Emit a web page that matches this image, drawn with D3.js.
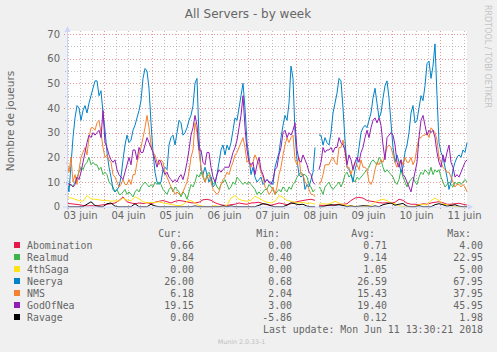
<!DOCTYPE html>
<html>
<head>
<meta charset="utf-8">
<script src="https://cdn.jsdelivr.net/npm/d3@7"></script>
<style>
  body { margin: 0; background: #f0f0f0; }
  svg { display: block; }
</style>
</head>
<body>
<div id="chart"></div>
<script>
// hourly samples from Sun Jun 3 05:30 to Mon Jun 11 13:30 (null = no data)
const neerya = [
  10, 6, 17, 28, 36, 41, 40, 35, 39, 41,
  38, 42, 45, 48, 51, 51, 45, 47, 38, 31,
  22, 16, 12, 7, 6, 7, 8, 12, 19, 25,
  29, 26, 27, 31, 33, 36, 39, 43, 52, 56,
  55, 48, 34, 22, 14, 10, 9, 10, 15, 16,
  15, 25, 28, 29, 25, 30, 35, 34, 29, 30,
  32, 35, 37, 41, 50, 52, 28, 15, 13, 16,
  13, 10, 12, 8, 9, 13, 18, 23, 25, 21,
  25, 23, 26, 31, 36, 35, 40, 45, 50, 40,
  26, 20, 13, 16, 12, 10, 11, 12, 9, 10,
  11, 10, 10, 9, 16, 19, 22, 28, 33, 37,
  35, 42, 57, 52, 30, 19, 13, 12, 13, 7,
  9, 8, 11, 14, 24, null, 29, 29, 25, 28,
  26, 25, 30, 38, 42, 46, 52, 51, 40, 27,
  16, 15, 13, 10, 15, 18, 24, 30, 32, 33,
  32, 35, 38, 44, 48, 42, 36, 38, 44, 49,
  51, 44, 34, 24, 18, 21, 18, 14, 16, 22,
  25, 30, 38, 41, 34, 35, 40, 45, 43, 49,
  58, 59, 52, 57, 66, 45, 26, 22, 20, 16,
  12, 7, 10, 15, 18, 20, 21, 20, 23, 22,
  26
];
const godofnea = [
  10, 9, 9, 8, 9, 12, 11, 14, 18, 22,
  26, 29, 28, 30, 29, 30, 31, 28, 39, 26,
  24, 21, 19, 18, 19, 15, 13, 12, 11, 14,
  17, 20, 17, 23, 23, 19, 24, 22, 22, 25,
  28, 26, 24, 22, 19, 16, 19, 18, 15, 13,
  14, 12, 11, 10, 11, 10, 12, 13, 11, 14,
  18, 23, 29, 32, 37, 33, 23, 23, 18, 17,
  22, 22, 16, 12, 10, 13, 15, 14, 15, 16,
  16, 16, 19, 22, 24, 27, 32, 37, 45, 32,
  23, 18, 17, 18, 13, 17, 20, 15, 13, 10,
  11, 10, 9, 11, 15, 16, 21, 24, 30, 31,
  28, 30, 29, 31, 34, 23, 19, 18, 21, 19,
  17, 14, 13, 10, 9, null, 15, 18, 24, 22,
  23, 23, 24, 22, 24, 24, 28, 26, 25, 23,
  17, 21, 19, 15, 18, 20, 18, 22, 24, 28,
  31, 28, 32, 35, 36, 34, 36, 33, 25, 19,
  28, 29, 30, 29, 25, 18, 16, 19, 13, 12,
  10, 8, 6, 10, 14, 18, 28, 35, 37, 33,
  29, 31, 30, 31, 28, 22, 18, 16, 21, 18,
  22, 25, 18, 16, 12, 13, 12, 14, 16, 18,
  19
];
const nms = [
  18, 14, 20, 10, 13, 9, 15, 20, 22, 24,
  21, 28, 32, 32, 31, 34, 35, 30, 24, 20,
  21, 19, 18, 13, 12, 10, 8, 9, 11, 9,
  9, 11, 9, 13, 13, 18, 21, 24, 28, 32,
  37, 32, 25, 22, 21, 18, 17, 19, 18, 14,
  12, 10, 8, 7, 5, 6, 5, 5, 6, 8,
  10, 14, 20, 23, 34, 30, 22, 16, 13, 10,
  12, 13, 10, 7, 6, 5, 6, 9, 11, 12,
  14, 13, 16, 18, 21, 22, 24, 26, 28, 24,
  18, 19, 16, 18, 21, 19, 17, 14, 12, 8,
  7, 5, 6, 8, 5, 8, 13, 16, 21, 25,
  28, 26, 28, 29, 19, 17, 20, 13, 13, 10,
  9, 7, 5, 5, 4, null, 9, 10, 13, 17,
  17, 17, 19, 20, 18, 17, 24, 24, 27, 22,
  16, 16, 13, 16, 18, 17, 15, 19, 16, 16,
  15, 10, 9, 11, 15, 18, 17, 19, 18, 21,
  24, 25, 24, 21, 18, 16, 18, 19, 17, 20,
  18, 18, 20, 17, 19, 24, 28, 28, 29, 29,
  30, 28, 32, 31, 30, 27, 20, 18, 16, 15,
  14, 14, 12, 10, 8, 9, 9, 8, 9, 8,
  6
];
const realmud = [
  9, 8, 9, 8, 10, 12, 14, 16, 15, 17,
  18, 20, 17, 18, 17, 17, 15, 16, 13, 14,
  13, 10, 9, 8, 6, 7, 5, 5, 6, 7,
  5, 6, 5, 4, 6, 7, 6, 8, 9, 10,
  9, 8, 9, 8, 10, 9, 10, 9, 7, 6,
  5, 7, 8, 6, 8, 7, 6, 4, 6, 5,
  3, 6, 9, 8, 10, 13, 12, 14, 12, 10,
  13, 14, 12, 9, 10, 8, 7, 9, 10, 11,
  9, 7, 8, 10, 9, 12, 11, 10, 9, 10,
  9, 10, 9, 8, 7, 5, 6, 5, 6, 7,
  7, 9, 8, 7, 5, 6, 7, 6, 8, 7,
  6, 8, 7, 9, 10, 12, 13, 14, 13, 13,
  12, 9, 8, 6, 7, null, 8, 7, 5, 8,
  9, 10, 8, 7, 8, 9, 10, 8, 10, 13,
  14, 12, 13, 11, 10, 12, 11, 12, 13, 14,
  15, 16, 18, 19, 18, 17, 20, 19, 16, 14,
  15, 14, 13, 12, 10, 9, 11, 15, 12, 10,
  8, 10, 11, 12, 10, 9, 12, 14, 13, 15,
  14, 13, 16, 13, 15, 14, 15, 12, 10, 8,
  9, 10, 9, 8, 10, 9, 10, 9, 10, 11,
  10
];
// two-hourly samples
const abomination = [
  1.3, 1.2, 1, 0.8, 0.5, 0.3, 0.4, 0.3, 0.5, 0.8,
  1, 1.2, 1.5, 2.5, 4, 2, 1.5, 1.2, 1.5, 1.3,
  1.6, 1.2, 1.8, 2.2, 2.5, 2, 1.5, 2.2, 2.5, 2.3,
  2, 1.6, 1.5, 1.8, 2.8, 3, 2.6, 1.6, 1, 0.6,
  0.5, 0.8, 1, 1.5, 1.2, 1, 1.5, 1.6, 1.8, 1.2,
  0.8, 0.6, 1, 1.5, 1.2, 0.8, 1.2, 1.8, 2.2, 2.5,
  2.8, 3, 2.6, 0.6, 0.5, 0.6, 0.5, 0.8, 1, 1,
  1.2, 2.5, 3.5, 3.8, 3.5, 2.5, 2.2, 2, 1.6, 1.5,
  1.6, 1.4, 1.8, 3, 2.6, 1.4, 1, 1, 0.8, 1.2,
  1, 1.5, 1.8, 2, 1.6, 1, 1, 1.2, 1.4, 1,
  0.66
];
const saga4th = [
  3.5, 3.6, 3, 2.5, 2.2, 4.5, 3.2, 3, 2.8, 2.5,
  2.6, 2.2, 2.4, 2.2, 3.5, 2.7, 2.4, 4, 3.2, 2,
  1.5, 1.8, 1.6, 2, 1.5, 1.2, 1, 0.6, 0.4, 0.8,
  2.2, 2.5, 1.5, 0.5, 0.2, 0, 0, 0.5, 0, 0,
  0.6, 3.5, 4.5, 3, 2.5, 2.2, 2.6, 4.2, 3.5, 2.5,
  1.8, 1.5, 2.2, 4.5, 3.8, 2.5, 2.2, 1.8, 1.5, 1.8,
  1.3, 1.5, 1, 1, 1.2, 1, 1.4, 2.2, 1.5, 0.8,
  0.5, 0.3, 0.2, 0, 0, 0.2, 0.5, 2, 2.5, 3,
  2.5, 1.5, 1.2, 0.4, 0, 0, 0, 0.2, 0.8, 1,
  0.7, 2.5, 3.5, 2.5, 1, 0.8, 0.3, 0, 0, 0,
  0
];
const ravage = [
  0, 0, 0, 0, 0, 1, 2, 0.5, 0, 0,
  1.2, 1.5, 0.2, 0, 0, 0, 0, 1.2, 0, 0,
  0, 1, 0.3, 0, 0, 0, 0, 0, 0, 0,
  0, 0, 0.3, 0, 0, 0, 0, 0, 0, 0.3,
  0, 0.3, 0, 0, 0, 0, 0, 0, 0.6, 1.2,
  1, 0.3, 0, 0, 0, 0.6, 1.6, 1.2, 0.8, 1,
  0.2, 0, 0, 0, 0, 0.5, 0.8, 0.6, 0.8, 0.5,
  0, 0.3, 0, 0.2, 0.4, 0.3, 0, 0.3, 0, 0.8,
  1.2, 1.5, 0.6, 1, 1.3, 0.2, 0, 0, 0.4, 0,
  0, 0, 0.8, 1.2, 0.8, 0.2, 0.5, 0.8, 0.2, 0,
  0
];
const gapHours = [125];

const names  = ["Abomination", "Realmud", "4thSaga", "Neerya", "NMS", "GodOfNea", "Ravage"];
const colors = ["#e6194b", "#3cb44b", "#ffe119", "#0082c8", "#f58231", "#911eb4", "#000000"];
const curVals = [0.66, 9.84, 0.00, 26.00, 6.18, 19.15, 0.00];
const minVals = [0.00, 0.40, 0.00, 0.68, 2.04, 3.00, -5.86];
const avgVals = [0.71, 9.14, 1.05, 26.59, 15.43, 19.40, 0.12];
const maxVals = [4.00, 22.95, 5.00, 67.95, 37.95, 45.95, 1.98];
const yTicks = [0, 10, 20, 30, 40, 50, 60, 70];

const W = 497, H = 352;
const plotL = 67, plotR = 467, plotT = 31, plotB = 207;
const fontCol = "#666666", axisCol = "#cfd6f8";

const start = new Date(2018, 5, 3, 5, 30);
const end = new Date(2018, 5, 11, 13, 30);
const hourTime = h => new Date(start.getTime() + h * 3600e3);

const x = d3.scaleTime().domain([start, end]).range([plotL, plotR]);
const y = d3.scaleLinear().domain([0, 70]).range([206.7, 34]);

const fr = d3.timeFormatLocale({
  dateTime: "%A %e %B %Y à %X", date: "%d/%m/%Y", time: "%H:%M:%S", periods: ["AM", "PM"],
  days: ["dimanche", "lundi", "mardi", "mercredi", "jeudi", "vendredi", "samedi"],
  shortDays: ["dim.", "lun.", "mar.", "mer.", "jeu.", "ven.", "sam."],
  months: ["janvier", "février", "mars", "avril", "mai", "juin", "juillet", "août", "septembre", "octobre", "novembre", "décembre"],
  shortMonths: ["janv.", "févr.", "mars", "avr.", "mai", "juin", "juil.", "août", "sept.", "oct.", "nov.", "déc."]
});
const dayFmt = fr.format("%d %b");

const svg = d3.select("#chart").append("svg")
  .attr("width", W).attr("height", H)
  .style("font-family", "'DejaVu Sans', sans-serif");

svg.append("rect").attr("width", W).attr("height", H).attr("fill", "#f0f0f0");
svg.append("rect")
  .attr("x", plotL).attr("y", plotT)
  .attr("width", plotR - plotL).attr("height", plotB - plotT)
  .attr("fill", "#ffffff");

// grid
const px = v => Math.round(v) + 0.5;
const minorCol = "rgba(140,140,140,0.55)", majorCol = "rgba(220,80,80,0.6)";
const grid = svg.append("g").attr("stroke-width", 1).attr("stroke-dasharray", "1,2");

const midnights = d3.timeDay.range(start, end);
const sixHours = d3.timeHour.every(6).range(start, end).filter(d => d.getHours() !== 0);

grid.selectAll(".vmin").data(sixHours).enter().append("line")
  .attr("x1", d => px(x(d))).attr("x2", d => px(x(d)))
  .attr("y1", plotT).attr("y2", plotB + 2)
  .attr("stroke", minorCol);
grid.selectAll(".hmin").data(d3.range(5, 70, 10)).enter().append("line")
  .attr("x1", plotL - 2).attr("x2", plotR)
  .attr("y1", d => px(y(d))).attr("y2", d => px(y(d)))
  .attr("stroke", minorCol);
grid.selectAll(".vmaj").data(midnights).enter().append("line")
  .attr("x1", d => px(x(d))).attr("x2", d => px(x(d)))
  .attr("y1", plotT).attr("y2", plotB + 3)
  .attr("stroke", majorCol);
grid.selectAll(".hmaj").data(yTicks.slice(1)).enter().append("line")
  .attr("x1", plotL - 3).attr("x2", plotR)
  .attr("y1", d => px(y(d))).attr("y2", d => px(y(d)))
  .attr("stroke", majorCol);

// axis labels
const xAxis = d3.axisBottom(x)
  .tickValues(d3.timeHour.range(start, end).filter(d => d.getHours() === 12))
  .tickFormat(dayFmt).tickSize(0).tickPadding(5);
const gx = svg.append("g").attr("transform", `translate(0,${plotB})`).call(xAxis);
const yAxis = d3.axisLeft(y).tickValues(yTicks).tickSize(0).tickPadding(7);
const gy = svg.append("g").attr("transform", `translate(${plotL},0)`).call(yAxis);
[gx, gy].forEach(g => {
  g.select(".domain").remove();
  g.selectAll("text").attr("fill", fontCol)
    .style("font-family", "'DejaVu Sans', sans-serif").style("font-size", "10px");
});

// series, drawn in legend order
const allValues = [abomination, realmud, saga4th, neerya, nms, godofnea, ravage];
const steps = [2, 1, 2, 1, 1, 1, 2];

const line = d3.line()
  .defined(d => d.v != null)
  .x(d => x(hourTime(d.h)))
  .y(d => y(d.v));

allValues.forEach((vals, i) => {
  let pts = vals.map((v, j) => ({ h: j * steps[i], v: v }));
  if (steps[i] > 1) {
    gapHours.forEach(g => pts.push({ h: g, v: null }));
    pts.sort((a, b) => a.h - b.h);
  }
  svg.append("path")
    .datum(pts)
    .attr("fill", "none")
    .attr("stroke", colors[i])
    .attr("stroke-width", 1)
    .attr("d", line);
});

// axes with arrows
svg.append("line").attr("x1", plotL - 4).attr("x2", plotR + 3)
  .attr("y1", 207).attr("y2", 207).attr("stroke", axisCol);
svg.append("path").attr("d", `M${plotR + 1},204 L${plotR + 6},207 L${plotR + 1},210 Z`).attr("fill", axisCol);
svg.append("line").attr("x1", plotL + 0.5).attr("x2", plotL + 0.5)
  .attr("y1", 210).attr("y2", 30).attr("stroke", axisCol);
svg.append("path").attr("d", `M${plotL - 2.5},32 L${plotL + 0.5},26 L${plotL + 3.5},32 Z`).attr("fill", axisCol);

// titles
svg.append("text").attr("x", 248).attr("y", 18).attr("text-anchor", "middle")
  .attr("fill", fontCol).style("font-size", "12px").text("All Servers - by week");
svg.append("text").attr("transform", "translate(14,121) rotate(-90)")
  .attr("text-anchor", "middle").attr("fill", fontCol).style("font-size", "10.5px")
  .text("Nombre de joueurs");
svg.append("text").attr("transform", "translate(485,5) rotate(90)")
  .attr("fill", "#c4c4c4").style("font-size", "8px").text("RRDTOOL / TOBI OETIKER");

// legend
const mono = "'DejaVu Sans Mono', monospace";
const colEnds = [194, 292, 387, 483];
const heads = ["Cur:", "Min:", "Avg:", "Max:"];
const cols = [curVals, minVals, avgVals, maxVals];
const legend = svg.append("g").style("font-family", mono).style("font-size", "9.9px").attr("fill", fontCol);

heads.forEach((h, c) => {
  legend.append("text").attr("x", colEnds[c] - 12).attr("y", 237)
    .attr("text-anchor", "end").text(h);
});
names.forEach((n, i) => {
  const by = 249 + 12 * i;
  legend.append("rect").attr("x", 14).attr("y", by - 7).attr("width", 6).attr("height", 6)
    .attr("fill", colors[i]);
  legend.append("text").attr("x", 27).attr("y", by).text(n);
  cols.forEach((col, c) => {
    legend.append("text").attr("x", colEnds[c]).attr("y", by)
      .attr("text-anchor", "end").text(col[i].toFixed(2));
  });
});
legend.append("text").attr("x", 483).attr("y", 333).attr("text-anchor", "end")
  .text("Last update: Mon Jun 11 13:30:21 2018");

svg.append("text").attr("x", 241.5).attr("y", 344).attr("text-anchor", "middle")
  .attr("fill", "#bdbdbd").style("font-size", "6.3px").text("Munin 2.0.33-1");
</script>
</body>
</html>
